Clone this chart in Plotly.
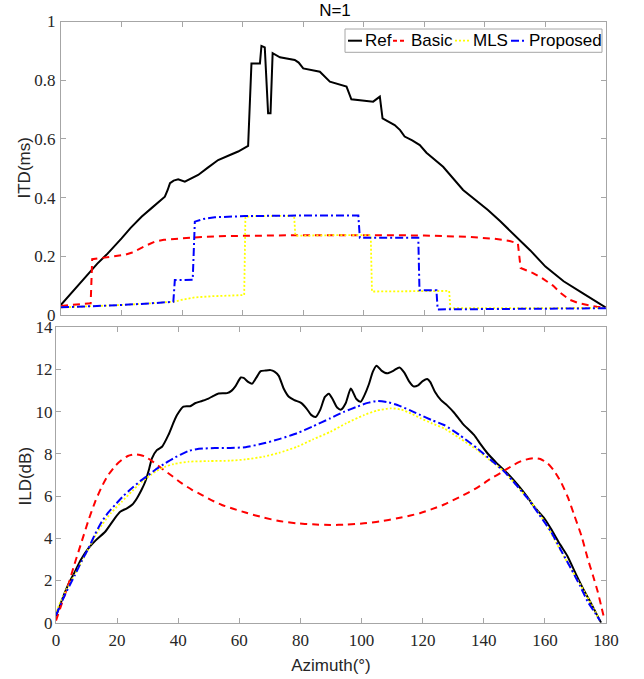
import plotly.graph_objects as go

# ---------------- ITD data (ms) ----------------
ref_itd_az = [0, 3, 6, 9, 12, 15, 18, 20, 23, 26.6, 30, 34.3, 35.2, 36, 37.2, 38.7, 40.9, 42.5, 45.3,
              48.5, 51.9, 55.8, 58.5, 61.8, 62.9, 65.7, 66.2, 67.3, 68.4, 69.2, 69.9, 72.3, 77.2, 78.5,
              80, 85.5, 87, 88.8, 94.3, 95.9, 103.1, 105.3, 106.2, 110.2, 112, 113.5, 116, 118.5,
              120.7, 126.2, 132.8, 141, 145, 150.9, 155, 160, 166, 172.4, 180]
ref_itd = [0.035, 0.07, 0.105, 0.142, 0.175, 0.205, 0.238, 0.261, 0.297, 0.335, 0.365, 0.403, 0.425,
           0.449, 0.458, 0.462, 0.454, 0.462, 0.477, 0.502, 0.528, 0.545, 0.557, 0.576, 0.857, 0.857,
           0.917, 0.912, 0.687, 0.687, 0.892, 0.878, 0.869, 0.86, 0.840, 0.829, 0.815, 0.795, 0.778,
           0.735, 0.727, 0.744, 0.670, 0.647, 0.63, 0.608, 0.595, 0.579, 0.553, 0.505, 0.426, 0.358,
           0.32, 0.261, 0.22, 0.165, 0.115, 0.074, 0.025]

basic_itd_az = [0, 5, 9.8, 10.3, 13.4, 17, 21.1, 23.5, 25.5, 28, 31, 34, 37.6, 42, 46.4, 55, 65, 80,
                100, 120, 135, 143, 148.2, 150.9, 151.8, 155.9, 159, 162.5, 165, 168, 171, 173.5, 177, 180]
basic_itd = [0.031, 0.035, 0.04, 0.19, 0.195, 0.2, 0.205, 0.213, 0.222, 0.236, 0.25, 0.256, 0.259,
             0.263, 0.266, 0.269, 0.271, 0.272, 0.272, 0.271, 0.266, 0.26, 0.252, 0.244, 0.16, 0.143,
             0.125, 0.1, 0.075, 0.052, 0.04, 0.034, 0.028, 0.025]

mls_itd_az = [0, 10, 20, 30, 37.6, 40, 44.2, 50, 55, 60.5, 60.9, 65, 77, 77.4, 90, 102.3, 102.7,
              115, 128.2, 128.6, 150, 180]
mls_itd = [0.026, 0.029, 0.034, 0.04, 0.046, 0.052, 0.06, 0.064, 0.066, 0.068, 0.335, 0.337, 0.338,
           0.27, 0.272, 0.272, 0.08, 0.081, 0.082, 0.023, 0.023, 0.024]

prop_itd_az = [0, 10, 20, 30, 37.1, 37.6, 43.5, 44.2, 47, 50.8, 55, 60.7, 80, 98.2, 98.7, 118, 118.4,
               124, 124.4, 150, 180]
prop_itd = [0.026, 0.029, 0.034, 0.04, 0.045, 0.119, 0.12, 0.318, 0.327, 0.333, 0.335, 0.337, 0.339,
            0.339, 0.263, 0.263, 0.084, 0.084, 0.019, 0.02, 0.023]

# ---------------- ILD data (dB) ----------------
ref_ild_az = [0, 2, 4, 6.2, 8, 10.6, 13, 16.1, 19, 21, 23.2, 25, 26.5, 28, 29.2, 30.5, 31.4, 33, 34.7,
              36.8, 38.5, 39.6, 41.7, 43.9, 45.5, 47.8, 49.9, 51.5, 53.2, 56, 57.5, 58.7, 60.5, 61.4,
              63, 64.2, 65.5, 67, 68.5, 70.2, 71.5, 72.9, 74.5, 76.2, 78, 80.2, 82, 83.5, 85, 86.5, 88,
              89.3, 90.5, 92, 93.3, 94.8, 96.5, 98.3, 99.7, 101, 102.4, 103.7, 104.9, 106.5, 108.4,
              110.5, 112.4, 114, 115.5, 117, 118.5, 120, 121.5, 122.5, 124, 126, 128, 130.3, 133,
              136.8, 139, 141.2, 144, 147.7, 151, 154.3, 156.5, 159.8, 162, 165, 167.4, 170, 172.9,
              175, 177.3, 178.4]
ref_ild = [0.3, 1.1, 1.8, 2.42, 2.95, 3.52, 3.9, 4.31, 4.9, 5.26, 5.42, 5.6, 5.9, 6.3, 6.68, 7.3, 7.79,
           8.18, 8.34, 8.9, 9.5, 9.84, 10.24, 10.26, 10.4, 10.51, 10.62, 10.75, 10.86, 10.88, 11.0,
           11.2, 11.62, 11.6, 11.4, 11.33, 11.6, 11.92, 11.95, 11.97, 11.9, 11.7, 11.1, 10.71, 10.55,
           10.42, 10.15, 9.85, 9.75, 10.1, 10.7, 10.85, 10.6, 10.2, 10.1, 10.4, 11.1, 10.6, 10.47,
           10.8, 11.3, 11.9, 12.18, 11.95, 11.82, 11.95, 12.1, 11.85, 11.45, 11.2, 11.25, 11.45,
           11.55, 11.4, 10.95, 10.55, 10.3, 9.95, 9.45, 8.9, 8.45, 8.03, 7.6, 7.08, 6.55, 5.95, 5.5,
           4.95, 4.45, 3.7, 3.15, 2.35, 1.5, 0.95, 0.3, 0.0]

basic_ild_az = [0, 2, 4, 6, 8.4, 10.5, 12.8, 15, 17.1, 19.5, 21.5, 23.5, 25.9, 27.5, 29.2, 32, 34.6,
                38, 41.2, 44.5, 47.8, 51, 54.3, 58, 62, 68, 73, 78.9, 84, 89.8, 95, 100.8, 106, 111.7,
                116, 119.3, 123, 127, 132, 137.9, 142, 146.7, 150, 153, 156.5, 158.5, 160.9, 163,
                165.2, 167.5, 169.6, 172, 174, 175.8, 177.3, 178.5, 179.5]
basic_ild = [0.1, 0.95, 1.79, 2.75, 3.84, 4.8, 5.73, 6.45, 7.0, 7.45, 7.71, 7.9, 7.98, 7.95, 7.87,
             7.6, 7.31, 6.95, 6.6, 6.3, 6.05, 5.8, 5.58, 5.4, 5.22, 4.98, 4.82, 4.71, 4.66, 4.63, 4.65,
             4.71, 4.8, 4.95, 5.08, 5.2, 5.38, 5.6, 5.95, 6.4, 6.8, 7.2, 7.5, 7.7, 7.8, 7.76, 7.55,
             7.2, 6.68, 5.95, 5.1, 4.1, 3.05, 2.2, 1.47, 0.75, 0.15]

mls_ild_az = [0, 3, 6.2, 10.6, 13, 15, 18, 21.5, 25, 28.1, 31, 33, 35.7, 38.5, 43.4, 50, 57, 62, 68,
              73, 78.9, 84, 89.8, 95, 100.8, 105, 109.5, 113, 116.1, 119.3, 123, 127, 132, 137.9, 142,
              146.7, 151, 155.4, 160, 165.2, 169, 172.9, 175.5, 178]
mls_ild = [0.52, 1.45, 2.3, 3.5, 4.15, 4.63, 5.2, 5.73, 6.25, 6.68, 7.0, 7.2, 7.39, 7.52, 7.63, 7.66,
           7.68, 7.74, 7.87, 8.05, 8.34, 8.68, 9.05, 9.45, 9.84, 10.05, 10.16, 10.1, 9.92, 9.69, 9.45,
           9.21, 8.75, 8.18, 7.7, 7.16, 6.45, 5.73, 4.75, 3.4, 2.45, 1.47, 0.8, 0.1]

prop_ild_az = [0, 3, 6.2, 8.5, 10.6, 12.8, 15, 17, 19.3, 22, 24.8, 27.5, 30.3, 33, 35.7, 38.5, 41, 43.4,
               46, 48.9, 52, 57, 62, 68, 73, 78.9, 84, 89.8, 94, 98.6, 102, 105.1, 108.5, 111.7, 116.1,
               119.3, 123, 127, 132, 137.9, 142, 146.7, 150.5, 154.3, 158, 162, 165.2, 168.5, 171.5,
               174, 176.5, 178]
prop_ild = [0.35, 1.35, 2.26, 2.95, 3.52, 4.2, 4.79, 5.2, 5.58, 6.0, 6.37, 6.7, 7.0, 7.3, 7.55, 7.8,
            7.98, 8.14, 8.22, 8.26, 8.28, 8.28, 8.32, 8.5, 8.7, 8.98, 9.3, 9.69, 9.98, 10.24, 10.42,
            10.51, 10.45, 10.32, 10.05, 9.84, 9.6, 9.37, 8.9, 8.26, 7.75, 7.16, 6.55, 5.9, 5.15, 4.31,
            3.45, 2.58, 1.75, 1.0, 0.45, 0.1]

series_names = ["Ref", "Basic", "MLS", "Proposed"]
x_ticks = [0, 20, 40, 60, 80, 100, 120, 140, 160, 180]
itd_ticks = [0, 0.2, 0.4, 0.6, 0.8, 1]
itd_tick_text = ["0", "0.2", "0.4", "0.6", "0.8", "1"]
ild_ticks = [0, 2, 4, 6, 8, 10, 12, 14]

styles = [
    dict(color="#000000", width=2, dash="solid"),
    dict(color="#ff0000", width=2, dash="7px,5px"),
    dict(color="#ffff00", width=1.8, dash="2px,2px"),
    dict(color="#0000ff", width=2, dash="8px,3px,2px,3px"),
]

fig = go.Figure()

itd_sets = [(ref_itd_az, ref_itd), (basic_itd_az, basic_itd), (mls_itd_az, mls_itd), (prop_itd_az, prop_itd)]
ild_sets = [(ref_ild_az, ref_ild), (basic_ild_az, basic_ild), (mls_ild_az, mls_ild), (prop_ild_az, prop_ild)]

for name, (xs, ys), st in zip(series_names, itd_sets, styles):
    fig.add_trace(go.Scatter(x=xs, y=ys, mode="lines", name=name, line=st,
                             xaxis="x", yaxis="y", showlegend=False))
for name, (xs, ys), st in zip(series_names, ild_sets, styles):
    fig.add_trace(go.Scatter(x=xs, y=ys, mode="lines", name=name,
                             line=dict(**st, shape="spline", smoothing=0.6),
                             xaxis="x2", yaxis="y2", showlegend=False))

W, H = 644, 679
SANS = "Liberation Sans"
SERIF = "Liberation Serif"
tick_font = dict(family=SERIF, size=17, color="#262626")
title_font = dict(family=SANS, size=17, color="#262626")
axis_common = dict(showline=True, linecolor="#a6a6a6", linewidth=1, mirror="ticks",
                   ticks="inside", ticklen=5, tickcolor="#a6a6a6", tickwidth=1,
                   showgrid=False, zeroline=False, tickfont=tick_font, automargin=False)


def px_x(v):
    return v / W


def px_y(v):
    return 1 - v / H


# ---- legend box drawn in the top-right corner of the ITD panel ----
leg_y = 40.7
legend_items = [  # (line start, line end, text start) in pixels
    (348, 362, 362.5),
    (393, 407, 408.5),
    (455, 469, 471),
    (511, 525, 526.5),
]
shapes = [dict(type="rect", xref="paper", yref="paper", x0=px_x(345), x1=px_x(602),
               y0=px_y(52.3), y1=px_y(29), line=dict(color="#a6a6a6", width=1),
               fillcolor="white", layer="above")]
annotations = []
for (x0, x1, xt), name, st in zip(legend_items, series_names, styles):
    shapes.append(dict(type="line", xref="paper", yref="paper", x0=px_x(x0), x1=px_x(x1),
                       y0=px_y(leg_y), y1=px_y(leg_y), layer="above",
                       line=dict(color=st["color"], width=st["width"],
                                 dash="4px,3px" if st["dash"] == "7px,5px" else st["dash"])))
    annotations.append(dict(text=name, xref="paper", yref="paper", x=px_x(xt), y=px_y(leg_y),
                            xanchor="left", yanchor="middle", showarrow=False,
                            font=dict(family=SANS, size=17, color="#000000")))

# ---- y-axis titles ----
annotations.append(dict(text="ITD(ms)", xref="paper", yref="paper", x=px_x(23.5), y=px_y(168),
                        xanchor="center", yanchor="middle", textangle=-90, showarrow=False,
                        font=title_font))
annotations.append(dict(text="ILD(dB)", xref="paper", yref="paper", x=px_x(25.5), y=px_y(476),
                        xanchor="center", yanchor="middle", textangle=-90, showarrow=False,
                        font=title_font))

fig.update_layout(
    width=W, height=H,
    margin=dict(l=0, r=0, t=0, b=0, autoexpand=False),
    paper_bgcolor="white", plot_bgcolor="white",
    title=dict(text="N=1", x=335 / W, xanchor="center", y=1 - 10 / H, yanchor="middle",
               font=dict(family=SANS, size=17, color="#000000")),
    xaxis=dict(domain=[61 / W, 606 / W], range=[0, 180], tickvals=x_ticks, showticklabels=False,
               anchor="y", **axis_common),
    yaxis=dict(domain=[1 - 315 / H, 1 - 21.5 / H], range=[0, 1], tickvals=itd_ticks,
               ticktext=itd_tick_text, anchor="x", ticklabelstandoff=1, **axis_common),
    xaxis2=dict(domain=[56 / W, 606 / W], range=[0, 180], tickvals=x_ticks, anchor="y2",
                ticklabelstandoff=2,
                title=dict(text="Azimuth(°)", font=title_font, standoff=10), **axis_common),
    yaxis2=dict(domain=[1 - 622.7 / H, 1 - 327.3 / H], range=[0, 14], tickvals=ild_ticks,
                anchor="x2", ticklabelstandoff=-1, **axis_common),
    showlegend=False,
    shapes=shapes,
    annotations=annotations,
)

fig.write_html("out.html", config={"displayModeBar": False},
               post_script="document.body.style.margin='0px';")
